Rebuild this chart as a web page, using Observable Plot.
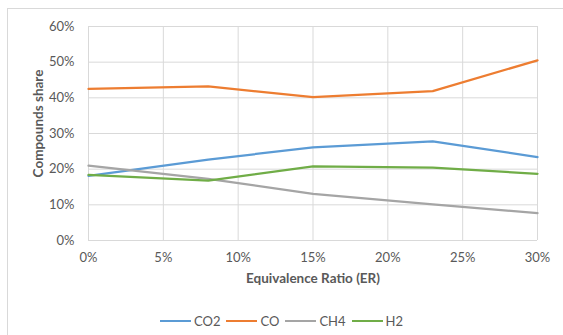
<!DOCTYPE html>
<html>
<head>
<meta charset="utf-8">
<script src="https://cdn.jsdelivr.net/npm/d3@7"></script>
<script src="https://cdn.jsdelivr.net/npm/@observablehq/plot@0.6"></script>
<style>
  html, body { margin: 0; padding: 0; background: #fff; }
  #chart { position: relative; width: 563px; height: 335px; overflow: hidden; font-family: Lato, "Open Sans", sans-serif; }
  #frame { position: absolute; left: 7px; top: 8px; width: 600px; height: 400px; border: 1px solid #d9d9d9; box-sizing: border-box; }
  #plot { position: absolute; left: 0; top: 0; }
  #legend { position: absolute; left: 0; top: 313px; width: 563px; display: flex; justify-content: center; font-size: 13px; color: #595959; }
  #legend .item { display: flex; align-items: center; margin: 0 3px; }
  #legend .swatch { width: 31px; height: 2.5px; margin-right: 3px; }
</style>
</head>
<body>
<div id="chart">
  <div id="frame"></div>
  <div id="plot"></div>
  <div id="legend"></div>
</div>
<script>
// Equivalence ratio (%) at each measurement
const er = [0, 8, 15, 23, 30];

// Gas composition shares (%) per compound
const co2 = [18.1, 22.7, 26.1, 27.8, 23.4];
const co  = [42.5, 43.2, 40.2, 41.9, 50.5];
const ch4 = [21.0, 17.3, 13.1, 10.1, 7.7];
const h2  = [18.4, 16.8, 20.8, 20.4, 18.7];

const seriesNames = ["CO2", "CO", "CH4", "H2"];
const seriesValues = [co2, co, ch4, h2];
const seriesColors = ["#5B9BD5", "#ED7D31", "#A5A5A5", "#70AD47"];

const yTicks = [0, 10, 20, 30, 40, 50, 60];
const xTicks = [0, 5, 10, 15, 20, 25, 30];

const rows = seriesNames.flatMap((name, i) =>
  er.map((x, j) => ({series: name, er: x, share: seriesValues[i][j]}))
);

const plot = Plot.plot({
  width: 563,
  height: 310,
  marginLeft: 88,
  marginRight: 26,
  marginTop: 26,
  marginBottom: 70,
  style: {fontFamily: "Lato, 'Open Sans', sans-serif", fontSize: "13px", color: "#595959", background: "transparent"},
  x: {domain: [0, 30], ticks: xTicks, tickFormat: d => `${d}%`, label: null},
  y: {domain: [0, 60], ticks: yTicks, tickFormat: d => `${d}%`, label: null},
  color: {domain: seriesNames, range: seriesColors},
  marks: [
    Plot.gridX(xTicks, {stroke: "#d9d9d9", strokeOpacity: 1, strokeWidth: 1}),
    Plot.gridY(yTicks, {stroke: "#d9d9d9", strokeOpacity: 1, strokeWidth: 1}),
    Plot.axisX(xTicks, {tickSize: 0, tickPadding: 12, tickFormat: d => `${d}%`, label: null, fill: "#595959", fontSize: 13}),
    Plot.axisY(yTicks, {tickSize: 0, tickPadding: 14, tickFormat: d => `${d}%`, label: null, fill: "#595959", fontSize: 13}),
    Plot.line(rows, {x: "er", y: "share", z: "series", stroke: "series", strokeWidth: 2.25}),
    Plot.text(["Equivalence Ratio (ER)"], {frameAnchor: "bottom", dy: 42, fontWeight: "bold", fontSize: 13.5, fill: "#595959"}),
    Plot.text(["Compounds share"], {frameAnchor: "left", textAnchor: "middle", dx: -50, dy: -10, rotate: -90, fontWeight: "bold", fontSize: 13.5, fill: "#595959"})
  ]
});
document.getElementById("plot").appendChild(plot);

const legend = document.getElementById("legend");
seriesNames.forEach((name, i) => {
  const item = document.createElement("div");
  item.className = "item";
  const sw = document.createElement("span");
  sw.className = "swatch";
  sw.style.background = seriesColors[i];
  const label = document.createElement("span");
  label.textContent = name;
  item.appendChild(sw);
  item.appendChild(label);
  legend.appendChild(item);
});
</script>
</body>
</html>
